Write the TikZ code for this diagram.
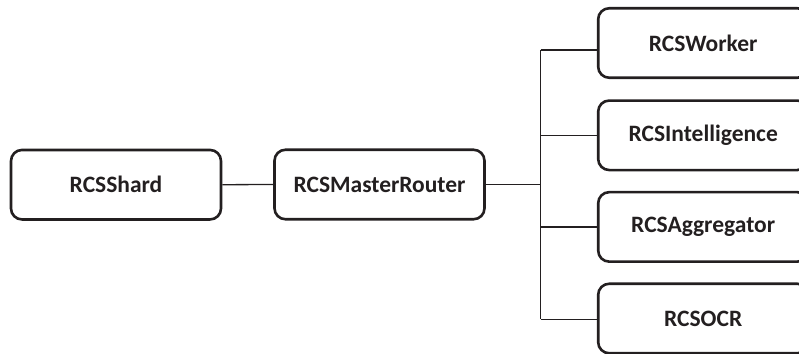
\documentclass[tikz,border=0pt]{standalone}
\usepackage{fontspec}
\setmainfont{Carlito}
\definecolor{ink}{HTML}{231F20}
\begin{document}
\begin{tikzpicture}[x=1pt,y=-1pt,
  box/.style={draw=ink, text=ink, line width=2.6pt, rounded corners=11pt,
    font=\bfseries\fontsize{23.5}{28}\selectfont, inner sep=0pt,
    minimum width=210pt, minimum height=69.5pt},
  link/.style={draw=ink, line width=1.3pt}]
\path[use as bounding box] (0,0) rectangle (799,353);
\clip (0,0) rectangle (799,353);
\node[box] (shard) at (116,184.7) {RCSShard};
\node[box] (router) at (379.5,184.5) {RCSMasterRouter};
\node[box] (worker) at (703.2,43) {RCSWorker};
\node[box] (intel) at (703.2,135.3) {RCSIntelligence};
\node[box] (aggr) at (703.2,226.9) {RCSAggregator};
\node[box] (ocr) at (703.2,318.5) {RCSOCR};
\coordinate (ttop) at (540.7,50);
\coordinate (tbot) at (540.7,319.3);
\draw[link] (ttop) -- (tbot);
\draw[link] (shard.east) -- (router.west);
\draw[link] (router.east) -- (router.east -| ttop);
\draw[link] (ttop) -- (ttop -| worker.west);
\draw[link] (intel.west -| ttop) -- (intel.west);
\draw[link] (aggr.west -| ttop) -- (aggr.west);
\draw[link] (tbot) -- (tbot -| ocr.west);
\end{tikzpicture}
\end{document}
